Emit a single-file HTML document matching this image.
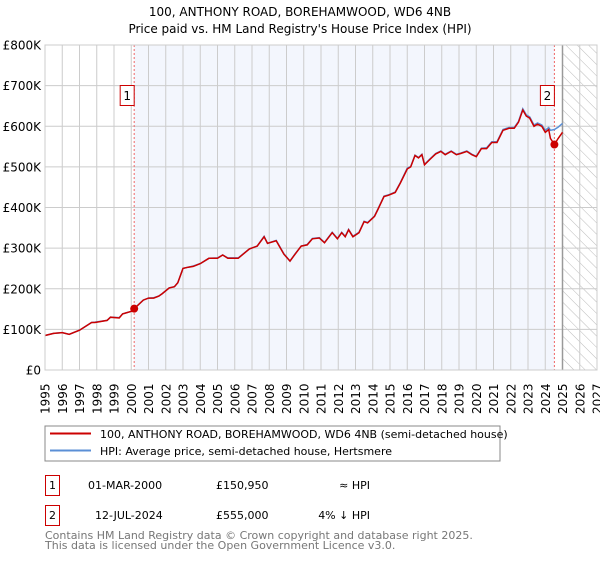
<!DOCTYPE html>
<html><head><meta charset="utf-8"><style>
body{margin:0;background:#fff;font-family:"DejaVu Sans","Liberation Sans",sans-serif;}
svg text{font-family:"DejaVu Sans","Liberation Sans",sans-serif;}
</style></head><body>
<svg id="c" width="600" height="560" viewBox="0 0 600 560">
<defs><pattern id="hatch" width="8" height="8" patternUnits="userSpaceOnUse" patternTransform="rotate(-45)"><line x1="0" y1="0" x2="0" y2="8" stroke="#bbb" stroke-width="1"/></pattern></defs>
<text x="300" y="16" text-anchor="middle" font-size="12">100, ANTHONY ROAD, BOREHAMWOOD, WD6 4NB</text>
<text x="300" y="33" text-anchor="middle" font-size="12">Price paid vs. HM Land Registry's House Price Index (HPI)</text>
<g id="plot"></g>
<rect x="45" y="426" width="455" height="35" fill="#fff" stroke="#888"/>
<line x1="50" y1="433.5" x2="91" y2="433.5" stroke="#cc0000" stroke-width="2"/>
<text x="100" y="438" font-size="11">100, ANTHONY ROAD, BOREHAMWOOD, WD6 4NB (semi-detached house)</text>
<line x1="50" y1="450.5" x2="91" y2="450.5" stroke="#5b8fd6" stroke-width="2"/>
<text x="100" y="455" font-size="11">HPI: Average price, semi-detached house, Hertsmere</text>
<g>
<rect x="45.5" y="475.5" width="14" height="20" fill="#fff" stroke="#cc0000"/><text x="52.5" y="489" font-size="11" text-anchor="middle">1</text>
<text x="88" y="489" font-size="11">01-MAR-2000</text><text x="216" y="489" font-size="11">£150,950</text><text x="370" y="489" font-size="11" text-anchor="end">≈ HPI</text></g>
<g>
<rect x="45.5" y="505.5" width="14" height="20" fill="#fff" stroke="#cc0000"/><text x="52.5" y="519" font-size="11" text-anchor="middle">2</text>
<text x="95" y="519" font-size="11">12-JUL-2024</text><text x="216" y="519" font-size="11">£555,000</text><text x="370" y="519" font-size="11" text-anchor="end">4% ↓ HPI</text></g>
<text x="45" y="539" font-size="11" fill="#777">Contains HM Land Registry data © Crown copyright and database right 2025.</text>
<text x="45" y="549" font-size="11" fill="#777">This data is licensed under the Open Government Licence v3.0.</text>
</svg>
<script>
const yTicks=[0,100,200,300,400,500,600,700,800];
const yTickLabels=["£0","£100K","£200K","£300K","£400K","£500K","£600K","£700K","£800K"];
const years=[1995,1996,1997,1998,1999,2000,2001,2002,2003,2004,2005,2006,2007,2008,2009,2010,2011,2012,2013,2014,2015,2016,2017,2018,2019,2020,2021,2022,2023,2024,2025,2026,2027];
const dates=[1995.0,1995.5,1996.0,1996.4,1997.0,1997.7,1997.9,1998.6,1998.8,1999.3,1999.5,2000.05,2000.17,2000.7,2001.0,2001.3,2001.6,2001.8,2002.2,2002.5,2002.7,2003.0,2003.3,2003.6,2004.0,2004.5,2005.0,2005.3,2005.6,2006.2,2006.85,2007.3,2007.7,2007.9,2008.4,2008.85,2009.2,2009.5,2009.85,2010.2,2010.5,2010.9,2011.2,2011.65,2011.95,2012.2,2012.4,2012.6,2012.85,2013.2,2013.5,2013.7,2014.1,2014.3,2014.65,2014.9,2015.3,2015.6,2016.0,2016.2,2016.45,2016.65,2016.85,2017.0,2017.3,2017.65,2017.95,2018.2,2018.55,2018.85,2019.1,2019.45,2019.75,2020.0,2020.3,2020.6,2020.9,2021.2,2021.55,2021.9,2022.2,2022.45,2022.7,2022.9,2023.1,2023.35,2023.55,2023.8,2024.0,2024.2,2024.3,2024.53,2024.75,2025.0];
const price=[85,90,92,88,98,117,117,122,130,128,138,145,150.95,172,177,177,182,188,202,205,215,250,253,255,262,275,275,283,275,275,298,305,328,312,318,285,268,285,305,308,323,325,313,338,323,338,328,345,328,338,365,362,378,395,427,430,437,460,495,500,528,522,530,505,518,532,538,530,538,530,533,538,530,525,545,545,560,560,590,595,595,610,640,625,620,600,605,600,585,592,570,555,570,585];
const hpi=[85,90,92,88,98,117,118,122,130,129,138,145,151,172,177,178,182,188,202,205,215,250,253,256,262,275,276,283,276,276,298,305,329,312,319,286,268,286,305,309,324,326,314,339,324,339,329,346,329,339,366,363,379,396,428,431,438,461,497,501,529,523,531,506,519,533,539,531,539,531,534,539,531,526,546,547,562,562,592,597,597,612,643,628,623,603,608,603,590,597,590,592,598,607];
const X0=45,X1=597,Y0=370,Y1=45,T0=1995,T1=2027,V1=800;
const x=t=>X0+(t-T0)/(T1-T0)*(X1-X0);
const y=v=>Y0-v/V1*(Y0-Y1);
const NS="http://www.w3.org/2000/svg",g=document.getElementById('plot');
function mk(tag,at,parent){const e=document.createElementNS(NS,tag);for(const k in at)e.setAttribute(k,at[k]);(parent||g).appendChild(e);return e;}
const sale1=2000.17,sale2=2024.53,nowT=2025.0;
let e=mk('rect',{x:x(sale1),y:Y1,width:x(sale2)-x(sale1),height:Y0-Y1,fill:'#f3f6fd'});


e=mk('rect',{x:x(nowT),y:Y1,width:X1-x(nowT),height:Y0-Y1,fill:'url(#hatch)'});


yTicks.forEach((v,i)=>{
 const l=mk('line',{x1:X0,x2:X1,y1:y(v),y2:y(v),stroke:'#ccc'});
 
 
 const t=mk('text',{x:X0-4,y:y(v)+4.5,'text-anchor':'end','font-size':'12'});t.textContent=yTickLabels[i];
 
 
});
years.forEach(yr=>{
 const l=mk('line',{x1:x(yr),x2:x(yr),y1:Y1,y2:Y0,stroke:'#ccc'});
 
 
 const t=mk('text',{x:0,y:0,'text-anchor':'start','font-size':'12',transform:`translate(${x(yr)+4.5},414) rotate(-90)`});t.textContent=yr;
 
 
});
e=mk('line',{x1:x(nowT),x2:x(nowT),y1:Y1,y2:Y0,stroke:'#999','stroke-width':1.5});


[sale1,sale2].forEach((s,i)=>{
 const l=mk('line',{x1:x(s),x2:x(s),y1:Y1,y2:Y0,stroke:'#e66','stroke-dasharray':'2,2'});
 
 
});
const pts=a=>a.map((v,i)=>x(dates[i]).toFixed(1)+','+y(v).toFixed(1)).join(' ');
e=mk('polyline',{points:pts(hpi),fill:'none',stroke:'#5b8fd6','stroke-width':1.5});


e=mk('polyline',{points:pts(price),fill:'none',stroke:'#cc0000','stroke-width':1.5});


[[sale1,150.95],[sale2,555]].forEach((s,i)=>{
 const c=mk('circle',{cx:x(s[0]),cy:y(s[1]),r:4,fill:'#cc0000'});
 
 
 const r=mk('rect',{x:x(s[0])-14,y:85.5,width:14,height:20,fill:'#fff',stroke:'#cc0000'});
 
 
 const t=mk('text',{x:x(s[0])-7,y:100,'text-anchor':'middle','font-size':'12'});t.textContent=String(i+1);
 
 
});
e=mk('rect',{x:X0,y:Y1,width:X1-X0,height:Y0-Y1,fill:'none',stroke:'#ccc'});


</script>
</body></html>
